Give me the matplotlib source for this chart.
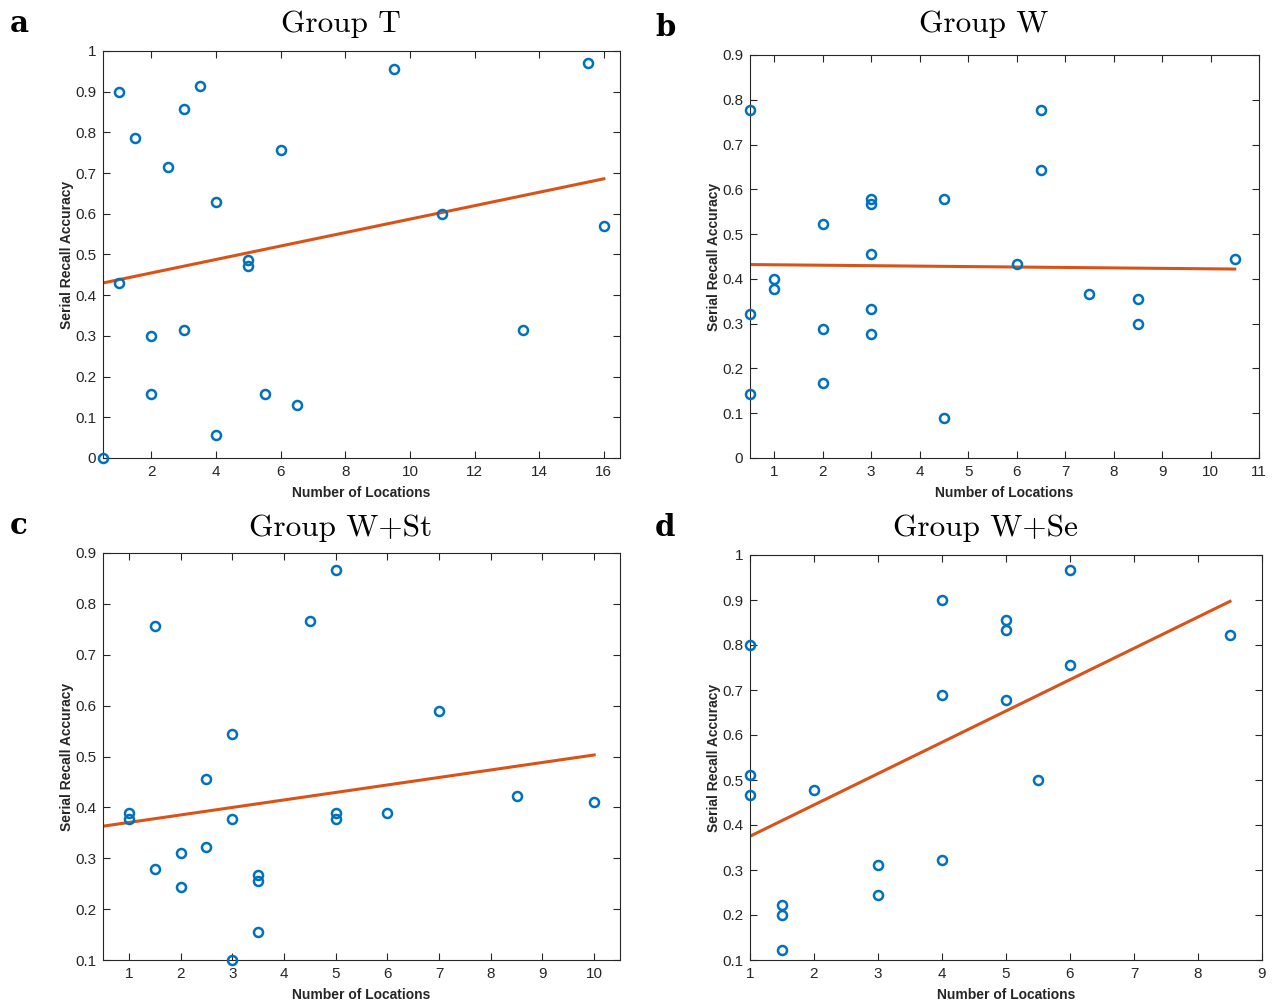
import numpy as np
import matplotlib
matplotlib.use("Agg")
import matplotlib.pyplot as plt

# ---------------- data ----------------
titles = ["Group T", "Group W", "Group W+St", "Group W+Se"]
panel_letters = ["a", "b", "c", "d"]

t_x = [0.5, 1, 1, 1.5, 2, 2, 2.5, 3, 3, 3.5, 4, 4, 5, 5, 5.5, 6, 6.5, 9.5, 11, 13.5, 15.5, 16]
t_y = [0.0, 0.9, 0.43, 0.786, 0.30, 0.157, 0.714, 0.857, 0.314, 0.914, 0.629, 0.057,
       0.486, 0.471, 0.157, 0.757, 0.129, 0.957, 0.60, 0.314, 0.971, 0.571]
t_fit_x = [0.5, 16]
t_fit_y = [0.43, 0.686]

w_x = [0.5, 0.5, 0.5, 1, 1, 2, 2, 2, 3, 3, 3, 3, 3, 4.5, 4.5, 6, 6.5, 6.5, 7.5, 8.5, 8.5, 10.5]
w_y = [0.778, 0.322, 0.144, 0.40, 0.378, 0.522, 0.289, 0.167, 0.578, 0.567, 0.456, 0.333,
       0.278, 0.578, 0.089, 0.433, 0.778, 0.644, 0.367, 0.356, 0.30, 0.444]
w_fit_x = [0.5, 10.5]
w_fit_y = [0.432, 0.422]

st_x = [1, 1, 1.5, 1.5, 2, 2, 2.5, 2.5, 3, 3, 3, 3.5, 3.5, 3.5, 4.5, 5, 5, 5, 6, 7, 8.5, 10]
st_y = [0.389, 0.378, 0.756, 0.278, 0.311, 0.244, 0.456, 0.322, 0.544, 0.378, 0.10, 0.267,
        0.256, 0.156, 0.767, 0.867, 0.389, 0.378, 0.389, 0.589, 0.422, 0.411]
st_fit_x = [0.5, 10]
st_fit_y = [0.363, 0.503]

se_x = [1, 1, 1, 1.5, 1.5, 1.5, 2, 3, 3, 4, 4, 4, 5, 5, 5, 5.5, 6, 6, 8.5]
se_y = [0.80, 0.511, 0.467, 0.222, 0.20, 0.122, 0.478, 0.311, 0.244, 0.90, 0.689, 0.322,
        0.856, 0.833, 0.678, 0.50, 0.967, 0.756, 0.822]
se_fit_x = [1, 8.5]
se_fit_y = [0.375, 0.897]

xlims = [(0.5, 16.5), (0.5, 11), (0.5, 10.5), (1, 9)]
ylims = [(0, 1), (0, 0.9), (0.1, 0.9), (0.1, 1)]
xticks = [list(range(2, 17, 2)), list(range(1, 12)), list(range(1, 11)), list(range(1, 10))]
yticks = [np.round(np.arange(0, 1.01, 0.1), 1), np.round(np.arange(0, 0.91, 0.1), 1),
          np.round(np.arange(0.1, 0.91, 0.1), 1), np.round(np.arange(0.1, 1.01, 0.1), 1)]

series = [(t_x, t_y, t_fit_x, t_fit_y), (w_x, w_y, w_fit_x, w_fit_y),
          (st_x, st_y, st_fit_x, st_fit_y), (se_x, se_y, se_fit_x, se_fit_y)]

# ---------------- layout (pixels) ----------------
W, H = 1278, 1007
boxes = [(103, 51, 620, 458), (750, 55, 1259, 458), (103, 553, 620, 960), (750, 555, 1262, 960)]
title_y = [24, 24, 528, 528]

fig = plt.figure(figsize=(W / 100, H / 100), dpi=100)
blue = "#0072BD"
orange = "#D95319"
tickcol = "#262626"

def fmt(v):
    return f"{v:g}"

for i, (l, t, r, b) in enumerate(boxes):
    ax = fig.add_axes([l / W, 1 - b / H, (r - l) / W, (b - t) / H])
    x, y, fx, fy = series[i]
    ax.plot(fx, fy, color=orange, lw=2.2, zorder=2)
    ax.plot(x, y, linestyle="none", marker="o", ms=6.5, mfc="none", mec=blue, mew=1.8,
            zorder=3, clip_on=False)
    ax.set_xlim(*xlims[i])
    ax.set_ylim(*ylims[i])
    ax.set_xticks(xticks[i])
    ax.set_yticks(yticks[i])
    ax.set_yticklabels([fmt(v) for v in yticks[i]])
    ax.tick_params(direction="in", top=True, right=True, length=5, width=0.8,
                   colors=tickcol, labelsize=11, pad=5)
    for lab in ax.get_xticklabels() + ax.get_yticklabels():
        lab.set_family("Liberation Sans")
        lab.set_color(tickcol)
    for sp in ax.spines.values():
        sp.set_color(tickcol)
        sp.set_linewidth(0.8)
    ax.set_xlabel("Number of Locations", fontsize=10, fontweight="bold",
                  family="Liberation Sans", color=tickcol, labelpad=5)
    ax.set_ylabel("Serial Recall Accuracy", fontsize=10, fontweight="bold",
                  family="Liberation Sans", color=tickcol, labelpad=1)
    # title centred a little left of the axes centre, as in the reference
    cx = (l + r) / 2 - 21
    fig.text(cx / W, 1 - title_y[i] / H, titles[i], fontsize=22.5, family="cmr10",
             ha="center", va="center")
    # panel letter
    lx = 10 if l < 600 else 655
    ly = t - 28
    fig.text(lx / W, 1 - ly / H, panel_letters[i], fontsize=21, fontweight="bold",
             family="DejaVu Serif", ha="left", va="center")

fig.savefig("out.png", dpi=100)
